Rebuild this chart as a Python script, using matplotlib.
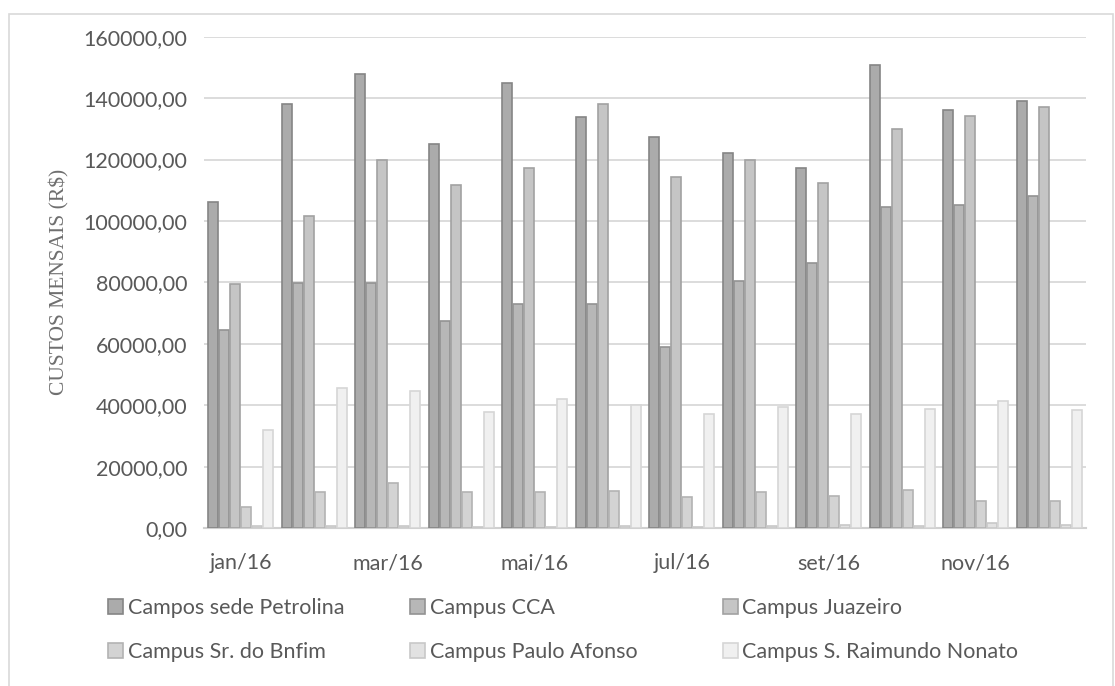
import numpy as np
import matplotlib.pyplot as plt
from matplotlib.patches import Rectangle, Patch

meses = ['jan/16', 'fev/16', 'mar/16', 'abr/16', 'mai/16', 'jun/16',
         'jul/16', 'ago/16', 'set/16', 'out/16', 'nov/16', 'dez/16']

campi = ['Campos sede Petrolina', 'Campus CCA', 'Campus Juazeiro',
         'Campus Sr. do Bnfim', 'Campus Paulo Afonso', 'Campus S. Raimundo Nonato']

petrolina = [106100, 138100, 148000, 125100, 144900, 134000,
             127200, 122200, 117200, 150700, 136200, 139100]
cca = [64500, 79700, 79900, 67500, 73000, 73000,
       58800, 80300, 86300, 104400, 105300, 108000]
juazeiro = [79400, 101600, 119800, 111800, 117200, 138100,
            114300, 119700, 112500, 130100, 134200, 137100]
bonfim = [6700, 11600, 14700, 11700, 11700, 12100,
          10100, 11600, 10300, 12500, 8900, 8900]
paulo_afonso = [800, 800, 500, 300, 300, 500,
                300, 500, 900, 500, 1600, 1000]
raimundo = [32000, 45600, 44500, 37700, 42000, 40200,
            37100, 39400, 37200, 38900, 41500, 38500]

series = [petrolina, cca, juazeiro, bonfim, paulo_afonso, raimundo]

fills = ['#ababab', '#b7b7b7', '#c5c5c5', '#d3d3d3', '#e2e2e2', '#f0f0f0']
edges = ['#858585', '#929292', '#a2a2a2', '#b3b3b3', '#c8c8c8', '#d6d6d6']

plt.rcParams['font.family'] = ['Lato', 'DejaVu Sans']

fig = plt.figure(figsize=(11.15, 6.86), dpi=100)
ax = fig.add_axes([0.183, 0.2303, 0.791, 0.7162])

x = np.arange(len(meses))
w = 0.15
for i, vals in enumerate(series):
    ax.bar(x + (i - 2.5) * w, vals, width=w * 0.9, color=fills[i],
           edgecolor=edges[i], linewidth=1.2, label=campi[i], zorder=3)

ax.set_xlim(-0.5, len(meses) - 0.5)
ax.set_ylim(0, 160000)
ax.set_yticks(np.arange(0, 160001, 20000))
ax.set_yticklabels([f'{v:.2f}'.replace('.', ',') for v in np.arange(0, 160001, 20000)])
ax.set_xticks(x[::2])
ax.set_xticklabels(meses[::2])

ax.grid(axis='y', color='#d9d9d9', linewidth=1.3, zorder=0)
for s in ['top', 'right', 'left']:
    ax.spines[s].set_visible(False)
ax.spines['bottom'].set_color('#d0d0d0')
ax.spines['bottom'].set_linewidth(1.5)
ax.tick_params(axis='both', length=0, colors='#595959', labelsize=15.5)
ax.tick_params(axis='y', pad=12)
ax.tick_params(axis='x', pad=18)

ax.set_ylabel('CUSTOS MENSAIS (R$)', family='Liberation Serif', fontsize=15.5,
              color='#6f6f6f', labelpad=10)

# legenda em tres colunas, cada uma com duas linhas
cols_x = [0.097, 0.368, 0.648]
handles = [Patch(facecolor=fills[i], edgecolor=edges[i], linewidth=1.2)
           for i in range(len(campi))]
for c in range(3):
    idx = [c, c + 3]
    fig.legend([handles[k] for k in idx], [campi[k] for k in idx],
               loc='upper left', bbox_to_anchor=(cols_x[c], 0.128),
               frameon=False, fontsize=15.5, labelcolor='#595959',
               handlelength=0.7, handleheight=0.7, handletextpad=0.2,
               labelspacing=1.1, borderaxespad=0, borderpad=0)

fig.patches.append(Rectangle((9 / 1115, -0.02), 1104 / 1115, 0.01 + 679 / 686,
                             transform=fig.transFigure, fill=False,
                             edgecolor='#d9d9d9', linewidth=1.2))

fig.savefig('out.png', dpi=100)
